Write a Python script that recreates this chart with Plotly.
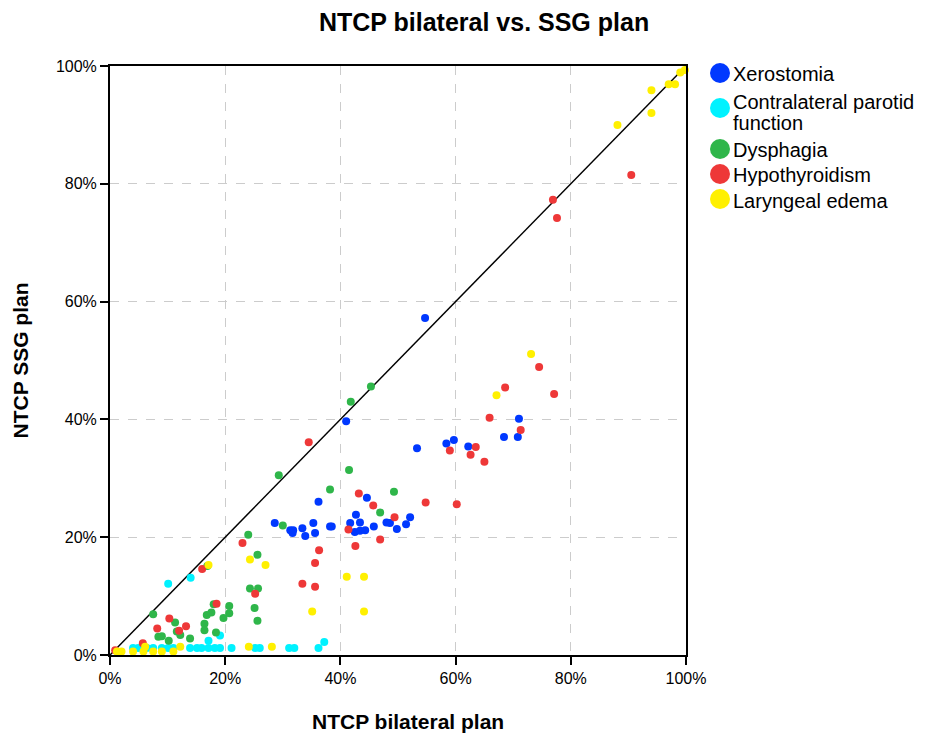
import plotly.graph_objects as go

# Xerostomia
xero_x = [54.7, 41.0, 71.0, 70.8, 68.4, 53.3, 58.4, 59.7, 62.2, 52.1, 51.4,
          44.6, 36.2, 42.7, 28.6, 31.3, 31.8, 31.7, 33.4, 33.9, 35.3, 35.6, 38.2, 38.5,
          41.7, 43.4, 42.5, 43.4, 44.3, 45.8, 48.0, 48.6, 49.8]
xero_y = [57.2, 39.7, 40.1, 37.0, 37.0, 35.1, 35.9, 36.5, 35.4, 23.4, 22.2,
          26.7, 26.0, 23.8, 22.4, 21.2, 21.2, 20.7, 21.5, 20.2, 22.4, 20.7, 21.8, 21.8,
          22.4, 22.5, 20.9, 21.1, 21.2, 21.8, 22.5, 22.4, 21.4]

# Contralateral parotid function
parot_x = [10.1, 14.0, 19.1, 17.1, 4.0, 4.9, 6.4, 7.5, 9.0, 10.1, 11.0, 13.9, 15.1,
           15.9, 17.1, 18.2, 19.1, 21.1, 25.2, 26.0, 31.1, 32.0, 36.2, 37.2]
parot_y = [12.1, 13.1, 3.3, 2.4, 1.2, 1.2, 1.2, 1.2, 1.2, 1.2, 1.2, 1.2, 1.2,
           1.2, 1.2, 1.2, 1.2, 1.2, 1.2, 1.2, 1.2, 1.2, 1.2, 2.2]

# Dysphagia
dys_x = [24.0, 25.6, 16.9, 24.3, 25.7, 25.1, 25.6, 7.5, 18.0, 16.8, 17.6, 20.7, 20.7,
         19.7, 16.4, 16.4, 18.4, 11.3, 11.6, 12.2, 8.4, 9.0, 10.2, 13.9, 30.0, 29.3,
         45.3, 41.8, 41.5, 38.2, 49.3, 46.9]
dys_y = [20.4, 17.0, 15.1, 11.3, 11.3, 8.0, 5.8, 6.9, 8.6, 6.8, 7.2, 8.3, 7.1,
         6.3, 5.3, 4.2, 3.8, 5.5, 4.0, 3.4, 3.1, 3.2, 2.4, 2.8, 22.0, 30.5,
         45.6, 43.0, 31.4, 28.1, 27.7, 24.2]

# Hypothyroidism
hypo_x = [76.9, 77.6, 90.5, 74.5, 68.6, 77.1, 65.9, 71.3, 59.0, 63.5, 62.6, 65.0, 54.8,
          60.2, 43.2, 45.7, 49.4, 41.4, 46.9, 42.6, 36.3, 35.6, 33.4, 35.6, 25.2, 34.5,
          23.0, 16.0, 18.5, 10.3, 13.2, 8.2, 12.0, 5.7, 0.9]
hypo_y = [77.3, 74.2, 81.5, 48.9, 45.4, 44.3, 40.3, 38.2, 34.7, 35.3, 34.0, 32.8, 25.9,
          25.6, 27.4, 25.4, 23.4, 21.3, 19.6, 18.5, 17.8, 15.6, 12.1, 11.6, 10.4, 36.1,
          19.0, 14.6, 8.7, 6.2, 4.9, 4.5, 4.1, 2.0, 0.8]

# Laryngeal edema
lar_x = [99.0, 99.8, 97.0, 98.1, 94.0, 94.0, 88.1, 73.1, 67.1, 41.1, 44.1, 44.1, 35.1,
         27.0, 24.3, 28.1, 17.1, 6.1, 12.2, 24.1, 1.2, 2.0, 4.0, 5.8, 7.5, 9.0, 11.0]
lar_y = [98.9, 99.3, 96.9, 96.9, 95.9, 92.0, 90.0, 51.1, 44.1, 13.3, 13.3, 7.4, 7.4,
         15.3, 16.2, 1.4, 15.3, 1.4, 1.4, 1.4, 0.6, 0.6, 0.6, 0.6, 0.6, 0.6, 0.6]

series_names = ["Xerostomia", "Contralateral parotid function", "Dysphagia",
                "Hypothyroidism", "Laryngeal edema"]
series_x = [xero_x, parot_x, dys_x, hypo_x, lar_x]
series_y = [xero_y, parot_y, dys_y, hypo_y, lar_y]
series_colors = ["#0038ff", "#00f2ff", "#2fb64a", "#ee3838", "#fff000"]

tick_vals = [0, 20, 40, 60, 80, 100]
tick_text = ["0%", "20%", "40%", "60%", "80%", "100%"]

# plot area geometry (pixels in the figure)
PW, PH = 576, 589

fig = go.Figure()
fig.add_trace(go.Scatter(x=[0, 100], y=[0, 100], mode="lines",
                         line=dict(color="black", width=1.5),
                         showlegend=False, hoverinfo="skip"))
for name, xs, ys, col in zip(series_names, series_x, series_y, series_colors):
    fig.add_trace(go.Scatter(x=xs, y=ys, mode="markers", name=name,
                             marker=dict(color=col, size=8, line=dict(width=0)),
                             cliponaxis=False, showlegend=False))

# hand-built legend (large round symbols, tight line spacing)
leg_sym_x = 610          # px from plot left
leg_txt_x = 621          # px from plot left
leg_rows = [7, 42, 83, 108, 133]   # px below plot top (symbol centres)
leg_lines = [[("Xerostomia", 8)],
             [("Contralateral parotid", 36), ("function", 57)],
             [("Dysphagia", 84)],
             [("Hypothyroidism", 109)],
             [("Laryngeal edema", 135)]]
shapes = []
annotations = []
for row, lines, col in zip(leg_rows, leg_lines, series_colors):
    shapes.append(dict(type="circle", xref="paper", yref="paper",
                       xsizemode="pixel", ysizemode="pixel",
                       xanchor=leg_sym_x / PW, yanchor=1 - row / PH,
                       x0=-10, x1=10, y0=-10, y1=10,
                       fillcolor=col, line=dict(width=0)))
    for txt, ty in lines:
        annotations.append(dict(text=txt, xref="paper", yref="paper",
                                x=leg_txt_x / PW, y=1 - ty / PH,
                                xanchor="left", yanchor="middle", showarrow=False,
                                font=dict(size=20, color="black")))

# x-axis title (placed slightly right of centre, as in the reference)
annotations.append(dict(text="<b>NTCP bilateral plan</b>", xref="paper", yref="paper",
                        x=298 / PW, y=-66 / PH, xanchor="center", yanchor="middle",
                        showarrow=False, font=dict(size=21, color="black")))

axis_common = dict(range=[0, 100], tickvals=tick_vals, ticktext=tick_text,
                   showline=True, linecolor="black", linewidth=2, mirror=True,
                   ticks="outside", ticklen=8, tickwidth=2, tickcolor="black",
                   showgrid=True, gridcolor="#cccccc", griddash="dash", gridwidth=1.2,
                   zeroline=False, tickfont=dict(size=16, color="black"))

fig.update_layout(
    width=928, height=733,
    margin=dict(l=102, r=250, t=58, b=86),
    paper_bgcolor="white", plot_bgcolor="white",
    font=dict(family="Liberation Sans, Arial, sans-serif", color="black"),
    title=dict(text="<b>NTCP bilateral vs. SSG plan</b>", x=0.513, xanchor="center",
               y=0.981, yanchor="middle", font=dict(size=25)),
    xaxis=dict(**axis_common),
    yaxis=dict(**axis_common,
               title=dict(text="<b>NTCP SSG plan</b>", font=dict(size=21), standoff=22)),
    showlegend=False,
    shapes=shapes,
    annotations=annotations,
)
fig.write_html("out.html")
